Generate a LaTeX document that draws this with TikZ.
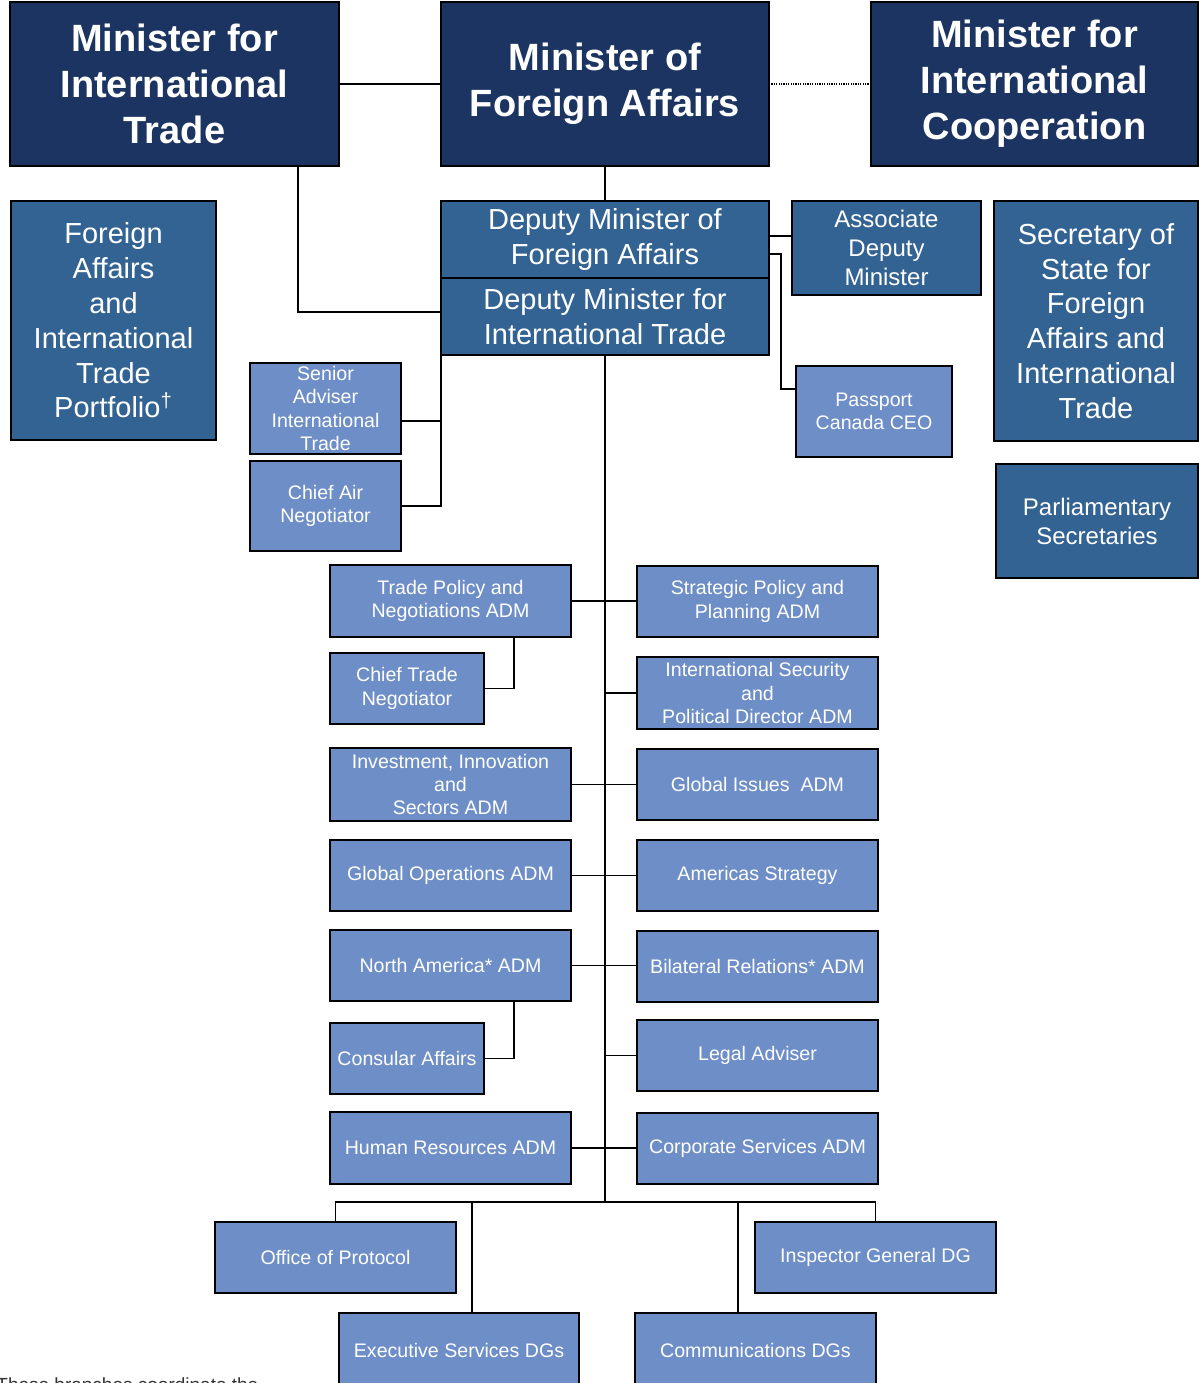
\documentclass[tikz,border=0pt]{standalone}
\usepackage{fontspec}
\setmainfont{Liberation Sans}
\usetikzlibrary{calc}
\definecolor{navyc}{HTML}{1C3461}
\definecolor{midc}{HTML}{336393}
\definecolor{litec}{HTML}{6E8EC7}
\tikzset{
  base/.style={draw=black, line width=0.8pt, inner sep=0pt, outer sep=0pt, align=center, text=white},
  navy/.style={base, fill=navyc, font=\bfseries\fontsize{19}{23}\selectfont},
  midbig/.style={base, fill=midc, font=\fontsize{14.5}{17.4}\selectfont},
  midsmall/.style={base, fill=midc, font=\fontsize{12}{14.5}\selectfont},
  lite/.style={base, fill=litec, font=\fontsize{9.8}{11.6}\selectfont},
  ln/.style={line width=0.8pt, draw=black},
  dotln/.style={line width=0.6pt, draw=black, dash pattern=on 0.6pt off 0.6pt}
}
% \bx{style}{x1}{y1}{x2}{y2}{name}{text}  (pixel corners)
\newcommand\bx[7]{%
  \node[#1, minimum width={(#4-#2)*0.5pt}, minimum height={(#5-#3)*0.5pt}] (#6) at ({(#2+#4)/2},{(#3+#5)/2}) {#7};}
\begin{document}
\begin{tikzpicture}[x=0.5pt, y=-0.5pt]
\useasboundingbox (0,0) rectangle (1199,1383);
\clip (0,0) rectangle (1199,1383);
\fill[white] (0,0) rectangle (1199,1383);

% top ministers
\bx{navy}{10}{2}{339}{166}{MIT}{Minister for\\International\\Trade}
\bx{navy}{441}{2}{769}{166}{MFA}{Minister of\\Foreign Affairs}
\bx{navy}{871}{2}{1198}{166}{MIC}{Minister for\\International\\Cooperation}

% mid-blue boxes
\bx{midbig}{11}{201}{216}{440}{FATP}{Foreign\\Affairs\\and\\International\\Trade\\Portfolio\textsuperscript{†}}
\bx{midbig}{441}{201}{769}{278}{DMFA}{Deputy Minister of\\Foreign Affairs}
\bx{midbig}{441}{278}{769}{355}{DMIT}{Deputy Minister for\\International Trade}
\bx{midsmall}{792}{201}{981}{295}{ADM}{Associate\\Deputy\\Minister}
\bx{midbig}{994}{201}{1198}{441}{SEC}{Secretary of\\State for\\Foreign\\Affairs and\\International\\Trade}
\bx{midsmall}{996}{464}{1198}{578}{PARL}{Parliamentary\\Secretaries}

% light boxes
\bx{lite}{250}{363}{401}{454}{SAIT}{Senior\\Adviser\\International\\Trade}
\bx{lite}{250}{461}{401}{551}{CAN}{Chief Air\\Negotiator}
\bx{lite}{796}{366}{952}{457}{PASS}{Passport\\Canada CEO}

\bx{lite}{330}{565}{571}{637}{TPN}{Trade Policy and\\Negotiations ADM}
\bx{lite}{330}{653}{484}{724}{CTN}{Chief Trade\\Negotiator}
\bx{lite}{330}{748}{571}{821}{IIS}{Investment, Innovation\\and\\Sectors ADM}
\bx{lite}{330}{840}{571}{911}{GOP}{Global Operations ADM}
\bx{lite}{330}{930}{571}{1001}{NAM}{North America* ADM}
\bx{lite}{330}{1023}{484}{1094}{CON}{Consular Affairs}
\bx{lite}{330}{1112}{571}{1184}{HRA}{Human Resources ADM}

\bx{lite}{637}{566}{878}{637}{SPP}{Strategic Policy and\\Planning ADM}
\bx{lite}{637}{657}{878}{729}{ISP}{International Security\\and\\Political Director ADM}
\bx{lite}{637}{749}{878}{820}{GIA}{Global Issues~ ADM}
\bx{lite}{637}{840}{878}{911}{AMS}{Americas Strategy}
\bx{lite}{637}{931}{878}{1002}{BRA}{Bilateral Relations* ADM}
\bx{lite}{637}{1020}{878}{1091}{LEG}{Legal Adviser}
\bx{lite}{637}{1113}{878}{1184}{CSA}{Corporate Services ADM}

\bx{lite}{215}{1222}{456}{1293}{OOP}{Office of Protocol}
\bx{lite}{755}{1222}{996}{1293}{IGD}{Inspector General DG}
\bx{lite}{339}{1313}{579}{1388}{ESD}{Executive Services DGs}
\bx{lite}{635}{1313}{876}{1388}{COM}{Communications DGs}

% footnote (cut off by the page edge, as in the original)
\node[anchor=base west, inner sep=0pt, text=black!80, font=\fontsize{9.5}{11}\selectfont] (NOTE) at (-4,1391) {These branches coordinate the};

% connectors
\draw[ln] (MIT.east) -- (MIT.east -| MFA.west);
\draw[dotln] (MFA.east) -- (MFA.east -| MIC.west);
\draw[ln] (MFA.south) -- (DMFA.north);
\draw[ln] ($(MIT.south west)!0.875!(MIT.south east)$) |- ($(DMIT.north west)!0.44!(DMIT.south west)$);
\coordinate (ad) at ($(ADM.north west)!0.37!(ADM.south west)$);
\draw[ln] (DMFA.east |- ad) -- (ad);
\coordinate (pp) at (781,254);
\draw[ln] (DMFA.east |- pp) -- (pp) |- ($(PASS.north west)!0.25!(PASS.south west)$);
\draw[ln] (DMIT.south west) |- (CAN.east);
\coordinate (sa) at ($(SAIT.north east)!0.64!(SAIT.south east)$);
\draw[ln] (sa) -- (sa -| DMIT.west);

\coordinate (bus) at (605,1202);
\draw[ln] (DMIT.south) -- (bus);
\draw[ln] (TPN.east) -- (TPN.east -| SPP.west);
\draw[ln] (ISP.west) -- (ISP.west -| bus);
\draw[ln] (IIS.east) -- (IIS.east -| GIA.west);
\draw[ln] (GOP.east) -- (GOP.east -| AMS.west);
\draw[ln] (NAM.east) -- (NAM.east -| BRA.west);
\draw[ln] (LEG.west) -- (LEG.west -| bus);
\draw[ln] (HRA.east) -- (HRA.east -| CSA.west);
\draw[ln] ($(TPN.south west)!0.763!(TPN.south east)$) |- (CTN.east);
\draw[ln] ($(NAM.south west)!0.763!(NAM.south east)$) |- (CON.east);

\draw[ln] (OOP.north) -- (OOP.north |- bus) -- (IGD.north |- bus) -- (IGD.north);
\coordinate (esdtop) at ($(ESD.north west)!0.554!(ESD.north east)$);
\coordinate (comtop) at ($(COM.north west)!0.427!(COM.north east)$);
\draw[ln] (esdtop |- bus) -- (esdtop);
\draw[ln] (comtop |- bus) -- (comtop);
\end{tikzpicture}
\end{document}
